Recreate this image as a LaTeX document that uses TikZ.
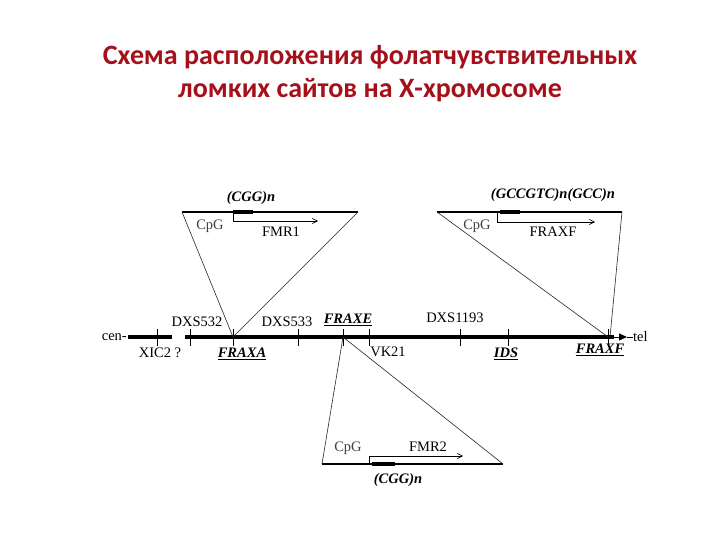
\documentclass[tikz,border=0pt]{standalone}
\usepackage{fontspec}
\setmainfont{Liberation Serif}
\newfontfamily\titlefont{Carlito}
\usetikzlibrary{arrows.meta}
\definecolor{titlered}{RGB}{165,16,26}
\newcommand{\ulbi}[1]{\underline{\textbf{\textit{#1}}}}
\begin{document}
\begin{tikzpicture}[x=1pt,y=-1pt,
 lab/.style={inner sep=0pt, font=\fontsize{14.5}{16}\selectfont},
 bilab/.style={inner sep=0pt, font=\fontsize{14.5}{16}\selectfont\bfseries\itshape},
 ttl/.style={inner sep=0pt, text=titlered, font=\titlefont\bfseries\fontsize{28}{32}\selectfont},
 chrom/.style={line width=4.5pt},
 tickmark/.style={line width=1pt},
 tri/.style={line width=0.6pt, draw=black!85},
 topline/.style={line width=1.1pt},
 repeatseg/.style={line width=3.5pt},
 gene/.style={line width=0.6pt,-{Straight Barb[length=5pt,width=5pt]}}
]
\useasboundingbox[fill=white] (0,0) rectangle (720,540);
% title
\node[ttl] (t1) at (370,57) {Схема расположения фолатчувствительных};
\node[ttl] (t2) at (370,90) {ломких сайтов на Х-хромосоме};
% chromosome
\coordinate (c0) at (128,337);
\coordinate (c1) at (172,337);
\coordinate (c2) at (185,337);
\coordinate (c3) at (614,337);
\coordinate (c4) at (627,337);
\draw[chrom] (c0) -- (c1);
\draw[chrom] (c2) -- (c3);
\draw[line width=1pt,-{Triangle[length=8pt,width=7pt]}] (c3) -- (c4);
\node[lab, anchor=east] (cen) at (127,337) {cen-};
\node[lab, anchor=west] (tel) at (633,337) {tel};
\draw[line width=0.8pt] (c4) -- (tel.west);
% ticks
\foreach \n/\x in {xic/157, dxsa/190, fraxa/233, dxsb/298, fraxe/343, vk/369, dxsc/460, ids/508, fraxf/608}{
  \coordinate (\n) at (\x,337);
  \draw[tickmark] (\x,329) -- (\x,346);
}
% labels
\node[lab] (lxic) at (160,353) {XIC2 ?};
\node[lab] (ldxsa) at (197,322) {DXS532};
\node[lab] (lfraxa) at (242,354) {\ulbi{FRAXA}};
\node[lab] (ldxsb) at (287,322) {DXS533};
\node[lab] (lfraxe) at (348,320) {\ulbi{FRAXE}};
\node[lab] (lvk) at (388,352) {VK21};
\node[lab] (ldxsc) at (455,318) {DXS1193};
\node[lab] (lids) at (506,354) {\ulbi{IDS}};
\node[lab] (lfraxf) at (600,350) {\ulbi{FRAXF}};
% upper-left triangle (FRAXA)
\coordinate (a1) at (182,212);
\coordinate (a2) at (358,212);
\draw[topline] (a1) -- (a2);
\draw[tri] (a1) -- (fraxa);
\draw[tri] (a2) -- (fraxa);
\coordinate (ar0) at (233,212);
\coordinate (ar1) at (253,212);
\draw[repeatseg] (ar0) -- (ar1);
\coordinate (ag) at (318,221);
\draw[gene] (ar0) |- (ag);
\node[bilab] (lcgga) at (251,198) {(CGG)n};
\node[lab, text=black!75] (lcpga) at (210,226) {CpG};
\node[lab] (lfmr1) at (281,232) {FMR1};
% upper-right triangle (FRAXF)
\coordinate (b1) at (437,212);
\coordinate (b2) at (622,212);
\coordinate (fraxfb) at (610,337);
\draw[topline] (b1) -- (b2);
\draw[tri] (b1) -- (fraxf);
\draw[tri] (b2) -- (fraxfb);
\coordinate (br0) at (500,212);
\coordinate (br1) at (520,212);
\draw[repeatseg] (br0) -- (br1);
\coordinate (bs) at (497,212);
\coordinate (bg) at (595,222);
\draw[gene] (bs) |- (bg);
\node[bilab] (lgcc) at (553,195) {(GCCGTC)n(GCC)n};
\node[lab, text=black!75] (lcpgb) at (477,226) {CpG};
\node[lab] (lfraxfg) at (553,232) {FRAXF};
% lower triangle (FRAXE)
\coordinate (e1) at (322,464);
\coordinate (e2) at (503,464);
\draw[topline] (e1) -- (e2);
\draw[tri] (e1) -- (fraxe);
\draw[tri] (e2) -- (fraxe);
\coordinate (er0) at (372,464);
\coordinate (er1) at (395,464);
\draw[repeatseg] (er0) -- (er1);
\coordinate (es) at (369,464);
\coordinate (eg) at (463,456);
\draw[gene] (es) |- (eg);
\node[lab, text=black!75] (lcpgc) at (348,448) {CpG};
\node[lab] (lfmr2) at (428,447) {FMR2};
\node[bilab] (lcggc) at (398,480) {(CGG)n};
\end{tikzpicture}
\end{document}
